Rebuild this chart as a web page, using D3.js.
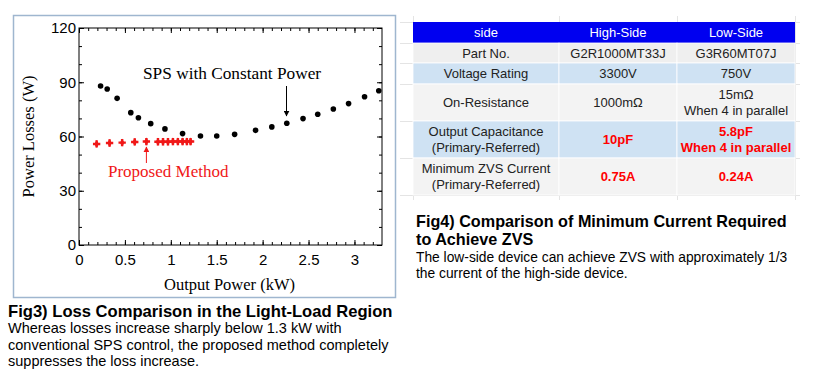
<!DOCTYPE html>
<html>
<head>
<meta charset="utf-8">
<script src="https://cdn.jsdelivr.net/npm/d3@7"></script>
<style>
  body { margin: 0; background: #fff; }
  svg { display: block; }
</style>
</head>
<body>
<script>

// SPS with constant power (black dots)
let spsPower = [0.235, 0.307, 0.415, 0.564, 0.647, 0.781, 0.936, 1.128, 1.323, 1.50, 1.695, 1.923, 2.10, 2.263, 2.44, 2.60, 2.77, 2.936, 3.11, 3.265];
let spsLoss  = [87.9, 86.3, 81.1, 73.2, 70.4, 67.1, 64.2, 61.6, 60.3, 60.3, 61.2, 63.4, 65.3, 67.3, 69.9, 72.3, 75.2, 78.2, 82.0, 85.3];

// proposed method (red markers)
let propPower = [0.192, 0.333, 0.47, 0.607, 0.734, 0.86, 0.915, 0.969, 1.023, 1.077, 1.128, 1.175, 1.215];
let propLoss  = [55.9, 56.4, 56.6, 57.0, 57.2, 57.1, 57.1, 57.1, 57.2, 57.2, 57.2, 57.2, 57.2];

let xTicks = [0, 0.5, 1, 1.5, 2, 2.5, 3];
let yTicks = [0, 30, 60, 90, 120];

// table
let tableHeader = ["side", "High-Side", "Low-Side"];
let rowLabels = [["Part No."], ["Voltage Rating"], ["On-Resistance"], ["Output Capacitance", "(Primary-Referred)"], ["Minimum ZVS Current", "(Primary-Referred)"]];
let highSide = [["G2R1000MT33J"], ["3300V"], ["1000mΩ"], ["10pF"], ["0.75A"]];
let lowSide  = [["G3R60MT07J"], ["750V"], ["15mΩ", "When 4 in parallel"], ["5.8pF", "When 4 in parallel"], ["0.24A"]];

let width = 826;
let height = 388;

let svg = d3.select("body")
  .append("svg")
  .attr("width", width)
  .attr("height", height);

svg.append("rect").attr("width", width).attr("height", height).attr("fill", "#fff");

// ---------- left chart ----------
let plot = {left: 79, right: 382, top: 28, bottom: 245};

svg.append("rect")
  .attr("x", 13.5).attr("y", 15.5)
  .attr("width", 382).attr("height", 282)
  .attr("fill", "none")
  .attr("stroke", "#9fb6cf")
  .attr("stroke-width", 1.5);

let x = d3.scaleLinear().domain([0, 3.3]).range([plot.left, plot.right]);
let y = d3.scaleLinear().domain([0, 120]).range([plot.bottom, plot.top]);

let xMinor = d3.range(0, 33).map(i => i / 10);
let yMinor = d3.range(0, 13).map(i => i * 10);

function tickStyle(g) {
  g.select(".domain").remove();
  g.selectAll("line").attr("stroke", "#000");
}

// minor ticks on all 4 sides
svg.append("g").attr("transform", `translate(0,${plot.bottom})`)
  .call(d3.axisBottom(x).tickValues(xMinor).tickSize(-3).tickFormat(""))
  .call(tickStyle);
svg.append("g").attr("transform", `translate(0,${plot.top})`)
  .call(d3.axisTop(x).tickValues(xMinor).tickSize(-3).tickFormat(""))
  .call(tickStyle);
svg.append("g").attr("transform", `translate(${plot.left},0)`)
  .call(d3.axisLeft(y).tickValues(yMinor).tickSize(-3).tickFormat(""))
  .call(tickStyle);
svg.append("g").attr("transform", `translate(${plot.right},0)`)
  .call(d3.axisRight(y).tickValues(yMinor).tickSize(-3).tickFormat(""))
  .call(tickStyle);

// major ticks
svg.append("g").attr("transform", `translate(0,${plot.bottom})`)
  .call(d3.axisBottom(x).tickValues(xTicks).tickSize(-5).tickPadding(9).tickFormat(d3.format("")))
  .call(tickStyle)
  .call(g => g.selectAll("text").attr("fill", "#000").style("font", "15px 'Liberation Sans', Arial, sans-serif"));
svg.append("g").attr("transform", `translate(0,${plot.top})`)
  .call(d3.axisTop(x).tickValues(xTicks).tickSize(-5).tickFormat(""))
  .call(tickStyle);
svg.append("g").attr("transform", `translate(${plot.left},0)`)
  .call(d3.axisLeft(y).tickValues(yTicks).tickSize(-5).tickPadding(3))
  .call(tickStyle)
  .call(g => g.selectAll("text").attr("fill", "#000").style("font", "15px 'Liberation Sans', Arial, sans-serif"));
svg.append("g").attr("transform", `translate(${plot.right},0)`)
  .call(d3.axisRight(y).tickValues(yTicks).tickSize(-5).tickFormat(""))
  .call(tickStyle);

// frame
svg.append("rect")
  .attr("x", plot.left).attr("y", plot.top)
  .attr("width", plot.right - plot.left).attr("height", plot.bottom - plot.top)
  .attr("fill", "none").attr("stroke", "#000").attr("stroke-width", 1);

// axis titles
svg.append("text")
  .attr("x", (plot.left + plot.right) / 2 - 1).attr("y", 290)
  .attr("text-anchor", "middle")
  .style("font", "16.5px 'Liberation Serif', 'Times New Roman', serif")
  .text("Output Power (kW)");

svg.append("text")
  .attr("transform", `translate(34,${(plot.top + plot.bottom) / 2}) rotate(-90)`)
  .attr("text-anchor", "middle")
  .style("font", "16.5px 'Liberation Serif', 'Times New Roman', serif")
  .text("Power Losses (W)");

// points
let sps = spsPower.map((p, i) => ({p: p, l: spsLoss[i]}));
let prop = propPower.map((p, i) => ({p: p, l: propLoss[i]}));

svg.append("g")
  .selectAll("circle")
  .data(sps)
  .join("circle")
    .attr("cx", d => x(d.p))
    .attr("cy", d => y(d.l))
    .attr("r", 2.8)
    .attr("fill", "#000");

let propG = svg.append("g")
  .selectAll("g")
  .data(prop)
  .join("g")
    .attr("transform", d => `translate(${x(d.p)},${y(d.l)})`)
    .attr("fill", "#f01818");
propG.append("path").attr("d", d3.symbol(d3.symbolCross, 30));
propG.append("path").attr("d", d3.symbol(d3.symbolDiamond, 18));

// annotations
svg.append("defs").selectAll("marker")
  .data([["arrBlack", "#000"], ["arrRed", "#f01818"]])
  .join("marker")
    .attr("id", d => d[0])
    .attr("viewBox", "0 0 10 10")
    .attr("refX", 9).attr("refY", 5)
    .attr("markerWidth", 6).attr("markerHeight", 6)
    .attr("markerUnits", "userSpaceOnUse")
    .attr("orient", "auto")
  .append("path")
    .attr("d", "M0,0L10,5L0,10z")
    .attr("fill", d => d[1]);

svg.append("text")
  .attr("x", 143).attr("y", 79)
  .style("font", "17.3px 'Liberation Serif', 'Times New Roman', serif")
  .text("SPS with Constant Power");

svg.append("line")
  .attr("x1", x(2.26)).attr("y1", 86)
  .attr("x2", x(2.26)).attr("y2", 116)
  .attr("stroke", "#000").attr("stroke-width", 1)
  .attr("marker-end", "url(#arrBlack)");

svg.append("text")
  .attr("x", 108).attr("y", 177)
  .attr("fill", "#f01818")
  .style("font", "17px 'Liberation Serif', 'Times New Roman', serif")
  .text("Proposed Method");

svg.append("line")
  .attr("x1", x(0.734)).attr("y1", 163)
  .attr("x2", x(0.734)).attr("y2", 147)
  .attr("stroke", "#f01818").attr("stroke-width", 1)
  .attr("marker-end", "url(#arrRed)");

// Fig3 caption
svg.append("text")
  .attr("x", 8).attr("y", 317)
  .style("font", "bold 16.6px 'Liberation Sans', Arial, sans-serif")
  .text("Fig3) Loss Comparison in the Light-Load Region");

let cap3 = ["Whereas losses increase sharply below 1.3 kW with",
            "conventional SPS control, the proposed method completely",
            "suppresses the loss increase."];
svg.append("g").selectAll("text")
  .data(cap3)
  .join("text")
    .attr("x", 8).attr("y", (d, i) => 333 + i * 16.5)
    .style("font", "14.5px 'Liberation Sans', Arial, sans-serif")
    .text(d => d);

// ---------- right table ----------
let colX = [413, 559, 677, 795];
let rowY = [22, 43, 63, 84, 121, 158, 195];
let rowFill = ["#0000f0", "#efefef", "#cfe2f3", "#f3f3f3", "#cfe2f3", "#f3f3f3"];

// faint sheet grid
let grid = svg.append("g").attr("stroke", "#e4e4e4").attr("stroke-width", 1);
colX.forEach(cx => grid.append("line").attr("x1", cx + 0.5).attr("x2", cx + 0.5).attr("y1", 16).attr("y2", 200));
rowY.forEach(ry => grid.append("line").attr("x1", 400).attr("x2", 800).attr("y1", ry + 0.5).attr("y2", ry + 0.5));

let cells = [];
let allRows = [tableHeader.map(t => [t])].concat(rowLabels.map((r, i) => [r, highSide[i], lowSide[i]]));
allRows.forEach((row, r) => {
  row.forEach((lines, c) => {
    cells.push({r: r, c: c, lines: lines});
  });
});

svg.append("g")
  .selectAll("rect")
  .data(cells)
  .join("rect")
    .attr("x", d => colX[d.c])
    .attr("y", d => rowY[d.r])
    .attr("width", d => colX[d.c + 1] - colX[d.c])
    .attr("height", d => rowY[d.r + 1] - rowY[d.r])
    .attr("fill", d => rowFill[d.r])
    .attr("stroke", d => d.r == 0 ? "none" : "#ffffff")
    .attr("stroke-width", 0.8);

let cellText = svg.append("g")
  .selectAll("text")
  .data(cells)
  .join("text")
    .attr("text-anchor", "middle")
    .attr("x", d => (colX[d.c] + colX[d.c + 1]) / 2)
    .attr("fill", d => d.r == 0 ? "#fff" : (d.r >= 4 && d.c > 0 ? "#f00" : "#222"))
    .style("font-family", "'Liberation Sans', Arial, sans-serif")
    .style("font-size", "13px")
    .style("font-weight", d => (d.r >= 4 && d.c > 0) ? "bold" : "normal");

cellText.each(function(d) {
  let mid = (rowY[d.r] + rowY[d.r + 1]) / 2;
  let n = d.lines.length;
  d3.select(this).selectAll("tspan")
    .data(d.lines)
    .join("tspan")
      .attr("x", (colX[d.c] + colX[d.c + 1]) / 2)
      .attr("y", (t, i) => mid + 4.5 + (i - (n - 1) / 2) * 15.5)
      .text(t => t);
});

// Fig4 caption
let cap4Title = ["Fig4) Comparison of Minimum Current Required", "to Achieve ZVS"];
svg.append("g").selectAll("text")
  .data(cap4Title)
  .join("text")
    .attr("x", 416).attr("y", (d, i) => 227 + i * 18)
    .style("font", "bold 16.2px 'Liberation Sans', Arial, sans-serif")
    .text(d => d);

let cap4 = ["The low-side device can achieve ZVS with approximately 1/3",
            "the current of the high-side device."];
svg.append("g").selectAll("text")
  .data(cap4)
  .join("text")
    .attr("x", 416).attr("y", (d, i) => 262 + i * 16)
    .style("font", "13.8px 'Liberation Sans', Arial, sans-serif")
    .text(d => d);

</script>
</body>
</html>
